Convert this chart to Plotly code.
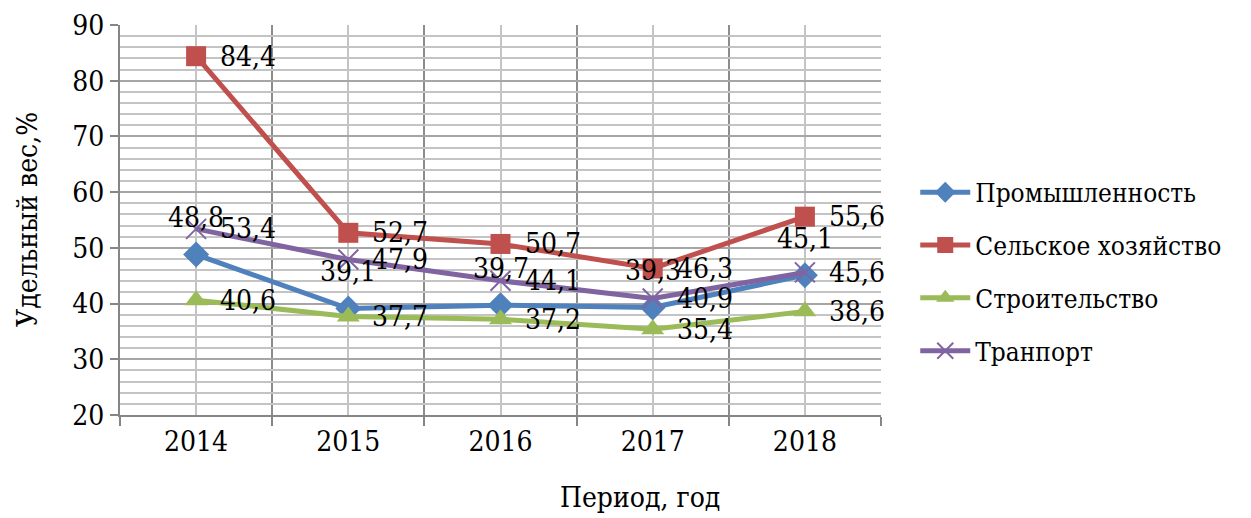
import plotly.graph_objects as go

years = ["2014", "2015", "2016", "2017", "2018"]
industry = [48.8, 39.1, 39.7, 39.3, 45.1]
agriculture = [84.4, 52.7, 50.7, 46.3, 55.6]
construction = [40.6, 37.7, 37.2, 35.4, 38.6]
transport = [53.4, 47.9, 44.1, 40.9, 45.6]

names = ["Промышленность", "Сельское хозяйство", "Строительство", "Транпорт"]
colors = ["#4f81bd", "#c0504d", "#9bbb59", "#8064a2"]
symbols = ["diamond", "square", "triangle-up", "x-thin"]
series = [industry, agriculture, construction, transport]

FONT = "'DejaVu Serif Condensed', 'DejaVu Serif', serif"
FS = 28
FS_LEG = 26
xs = list(range(len(years)))

fig = go.Figure()
for i, (name, vals) in enumerate(zip(names, series)):
    marker = dict(symbol=symbols[i], size=20, color=colors[i])
    if symbols[i] == "x-thin":
        marker = dict(symbol="x-thin", size=20, color=colors[i],
                      line=dict(color=colors[i], width=2))
    fig.add_trace(go.Scatter(
        x=xs, y=vals, name=name, mode="lines+markers",
        line=dict(color=colors[i], width=5),
        marker=marker, legendgroup=f"g{i}",
    ))

annotations = []
for i, vals in enumerate(series):
    for x, v in zip(xs, vals):
        label = f"{v:.1f}".replace(".", ",")
        if i == 0:
            annotations.append(dict(x=x, y=v, xref="x", yref="y", text=label,
                                    showarrow=False, xanchor="center", yanchor="middle",
                                    yshift=37, font=dict(family=FONT, size=FS, color="black")))
        else:
            annotations.append(dict(x=x, y=v, xref="x", yref="y", text=label,
                                    showarrow=False, xanchor="left", yanchor="middle",
                                    xshift=22, font=dict(family=FONT, size=FS, color="black")))

annotations.append(dict(x=0, y=0.5, xref="paper", yref="paper", text="Удельный вес,%",
                        textangle=-90, showarrow=False, xanchor="center", yanchor="middle",
                        xshift=-93, font=dict(family=FONT, size=FS, color="black")))
annotations.append(dict(x=0, y=0, xref="paper", yref="paper", text="Период, год",
                        showarrow=False, xanchor="center", yanchor="middle",
                        xshift=520, yshift=-82, font=dict(family=FONT, size=FS, color="black")))

fig.update_layout(
    width=1243, height=510,
    margin=dict(l=112, r=370, t=17, b=103),
    paper_bgcolor="white", plot_bgcolor="white",
    font=dict(family=FONT, size=FS, color="black"),
    showlegend=True,
    legend=dict(x=1.045, y=0.367, xanchor="left", yanchor="middle",
                font=dict(family=FONT, size=FS_LEG, color="black"),
                itemwidth=50, tracegroupgap=16, bgcolor="rgba(0,0,0,0)"),
    annotations=annotations,
)

fig.update_xaxes(
    range=[-0.5, 4.5], tickmode="array", tickvals=xs, ticktext=years,
    showgrid=True, gridcolor="#c4c4c4", gridwidth=2,
    ticks="", showline=True, linecolor="#868686", linewidth=2,
    tickfont=dict(family=FONT, size=FS, color="black"),
    minor=dict(tick0=-0.5, dtick=1, ticks="outside", ticklen=9, tickcolor="#868686",
               tickwidth=2, showgrid=True, gridcolor="#8c8c8c", gridwidth=2),
    zeroline=False, fixedrange=True, automargin=False,
)
fig.update_yaxes(
    range=[20, 90], dtick=10, tick0=0,
    showgrid=True, gridcolor="#a6a6a6", gridwidth=2,
    ticks="outside", ticklen=8, tickcolor="#868686", tickwidth=2,
    showline=True, linecolor="#868686", linewidth=2,
    tickfont=dict(family=FONT, size=FS, color="black"),
    minor=dict(dtick=2, showgrid=True, gridcolor="#c4c4c4", gridwidth=2),
    zeroline=False, fixedrange=True, automargin=False,
)

fig.write_html("out.html")
